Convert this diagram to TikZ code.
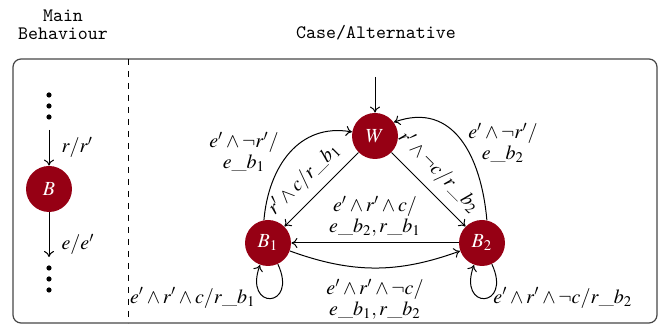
\documentclass[tikz,border=0pt]{standalone}
\IfFileExists{mathptmx.sty}{\usepackage{mathptmx}}{}
\usetikzlibrary{arrows.meta}
\definecolor{stred}{RGB}{150,0,20}
\definecolor{framegray}{RGB}{70,70,70}
\tikzset{
  st/.style={circle, fill=stred, text=white, minimum size=23pt, inner sep=0pt, font=\fontsize{10}{10}\selectfont},
  tr/.style={-{To[length=3pt,width=5pt]}, line width=0.5pt},
  lbl/.style={font=\fontsize{10}{10.5}\selectfont, inner sep=1pt, align=center},
  hdr/.style={font=\ttfamily\fontsize{9.5}{9}\selectfont, align=center},
  vdot/.style={circle, fill=black, inner sep=0pt, minimum size=2.6pt},
  framebox/.style={draw=framegray, line width=0.6pt, rounded corners=4pt},
}
\begin{document}
\begin{tikzpicture}[x=0.5pt,y=-0.5pt]
\useasboundingbox (0,0) rectangle (671,325);
% headers
\node[hdr] (hmain) at (63,25) {Main\\Behaviour};
\node[hdr] (hcase) at (376,33) {Case/Alternative};
% frame
\draw[framebox] (13,59) rectangle (657,323);
\draw[dashed, line width=0.5pt] (128,59) -- (128,323);
% left column
\node[vdot] (d1) at (49,95) {};
\node[vdot] (d2) at (49,106) {};
\node[vdot] (d3) at (49,117) {};
\node[vdot] (d4) at (49,268) {};
\node[vdot] (d5) at (49,279) {};
\node[vdot] (d6) at (49,290) {};
\node[st] (B) at (49,189) {$B$};
\coordinate (a1) at (49,130);
\coordinate (a2) at (49,257);
\draw[tr] (a1) -- node[lbl, right=5pt] {$r/r'$} (B);
\draw[tr] (B) -- node[lbl, right=5pt, pos=0.72] {$e/e'$} (a2);
% right graph
\node[st] (W) at (375,136) {$W$};
\node[st] (B1) at (268,243) {$B_1$};
\node[st] (B2) at (482,243) {$B_2$};
\coordinate (init) at (375,77);
\draw[tr] (init) -- (W);
\draw[tr] (W) -- node[lbl, sloped, above=3.5pt, pos=0.55] {$r'\wedge c/r\_b_1$} (B1);
\draw[tr] (W) -- node[lbl, sloped, above=3.5pt, pos=0.45] {$r'\wedge \neg c/r\_b_2$} (B2);
\draw[tr] (B2) -- node[lbl, above=2pt] {$e'\wedge r'\wedge c/$\\$e\_b_2, r\_b_1$} (B1);
\draw[tr] (B1) to[bend right=20] node[lbl, below=4.5pt] {$e'\wedge r'\wedge \neg c/$\\$e\_b_1, r\_b_2$} (B2);
\draw[tr] (B1.100) to[out=85, in=170, looseness=1.1] (W.170);
\draw[tr] (B2.78) to[out=95, in=20, looseness=1.2] (W.36);
\node[lbl] (l1) at (244,152) {$e'\wedge \neg r'/$\\$e\_b_1$};
\node[lbl] (l2) at (503,143) {$e'\wedge \neg r'/$\\$e\_b_2$};
\draw[tr] (B1) to[out=-65, in=-110, looseness=7] (B1);
\draw[tr] (B2) to[out=-65, in=-110, looseness=7] (B2);
\node[lbl, anchor=east] (l3) at (258,298) {$e'\wedge r'\wedge c/r\_b_1$};
\node[lbl, anchor=west] (l4) at (491,298) {$e'\wedge r'\wedge \neg c/r\_b_2$};
\end{tikzpicture}
\end{document}
